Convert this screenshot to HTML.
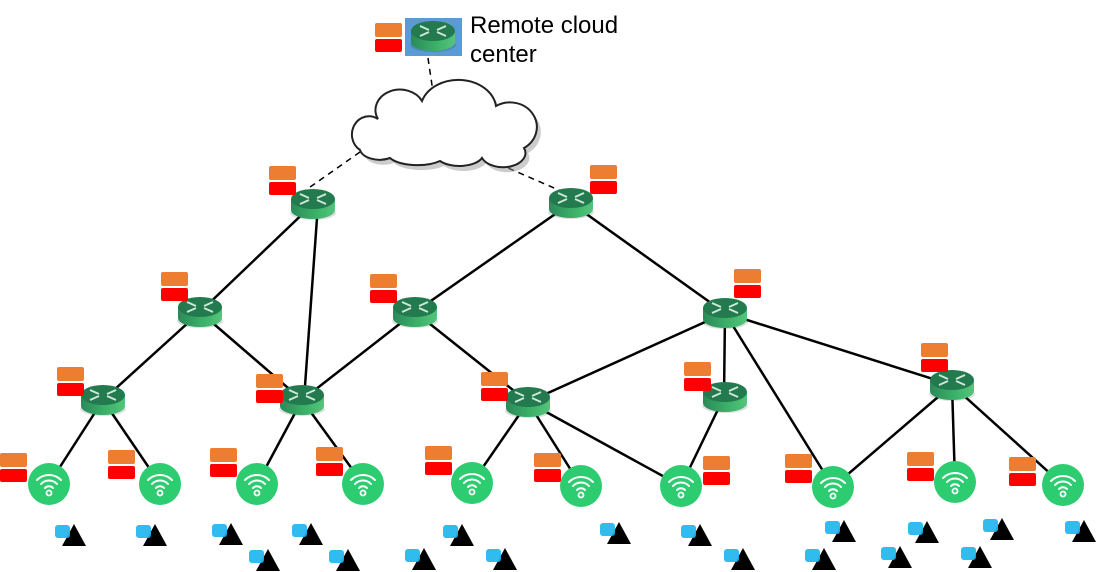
<!DOCTYPE html>
<html><head><meta charset="utf-8"><style>
html,body{margin:0;padding:0;background:#fff;}
svg{display:block;}
</style></head><body>
<svg width="1097" height="572" viewBox="0 0 1097 572" xmlns="http://www.w3.org/2000/svg" font-family="Liberation Sans, sans-serif">
<defs>
<linearGradient id="side" x1="0" x2="1" y1="0" y2="0">
<stop offset="0" stop-color="#2a8a58"/><stop offset="0.6" stop-color="#3db36a"/><stop offset="1" stop-color="#55c47d"/>
</linearGradient>
<g id="rt">
<ellipse cx="0" cy="9" rx="23" ry="7" fill="#000" opacity="0.12"/>
<path d="M-22,-5 L-22,6 A22,9 0 0 0 22,6 L22,-5 Z" fill="url(#side)"/>
<ellipse cx="0" cy="-5" rx="22" ry="10" fill="#237a4e"/>
<g stroke="#cfe9d8" stroke-width="1.8" fill="none">
<path d="M-13,-10 L-4,-6 M-13,0 L-4,-4 M13,-10 L4,-6 M13,0 L4,-4"/>
</g>
</g>
<g id="wf">
<circle cx="0" cy="0" r="21" fill="#2ecc71"/>
<g stroke="#fff" stroke-width="2" fill="none" stroke-linecap="round">
<path d="M-12,-4 A17,17 0 0 1 12,-4"/>
<path d="M-8,0 A11,11 0 0 1 8,0"/>
<path d="M-4,4 A5.5,5.5 0 0 1 4,4"/>
</g>
<circle cx="0" cy="9" r="2.5" fill="none" stroke="#fff" stroke-width="1.8"/>
</g>
<g id="lg">
<rect x="0" y="0" width="27" height="14" rx="2" fill="#ed7d31"/>
<rect x="0" y="16" width="27" height="13" rx="2" fill="#ff0000"/>
</g>
<g id="us">
<path d="M0,0 L12,22 L-12,22 Z" fill="#000"/>
<rect x="-19" y="1" width="15" height="13" rx="3" fill="#1fb5ee" opacity="0.92"/>
</g>
<path id="cl" d="M360,150 A15,16 0 0 1 378,119 A24,20 0 0 1 422,101 A38,30 0 0 1 496,106 A24,22 0 0 1 524,148 A22,14 0 0 1 482,158 A24,12 0 0 1 440,161 A30,12 0 0 1 390,158 A20,12 0 0 1 360,150 Z"/>
</defs>

<g stroke="#000" stroke-width="1.5" stroke-dasharray="6,5" fill="none">
<path d="M428,58 L433,92"/>
<path d="M360,152 L303,192"/>
<path d="M478,155 L568,194"/>
</g>

<use href="#cl" fill="#999" opacity="0.5" transform="translate(4,5)"/>
<use href="#cl" fill="#fff" stroke="#222" stroke-width="2"/>

<g stroke="#000" stroke-width="2.5" fill="none">
<line x1="313" y1="204" x2="200" y2="312"/>
<line x1="318" y1="204" x2="304" y2="400"/>
<line x1="200" y1="312" x2="103" y2="400"/>
<line x1="200" y1="312" x2="302" y2="400"/>
<line x1="571" y1="203" x2="415" y2="312"/>
<line x1="571" y1="203" x2="725" y2="313"/>
<line x1="415" y1="312" x2="302" y2="400"/>
<line x1="415" y1="312" x2="528" y2="402"/>
<line x1="725" y1="313" x2="528" y2="402"/>
<line x1="725" y1="313" x2="724" y2="397"/>
<line x1="725" y1="313" x2="833" y2="487"/>
<line x1="725" y1="313" x2="952" y2="385"/>
<line x1="103" y1="400" x2="49" y2="484"/>
<line x1="103" y1="400" x2="160" y2="484"/>
<line x1="302" y1="400" x2="257" y2="484"/>
<line x1="302" y1="400" x2="363" y2="484"/>
<line x1="528" y1="402" x2="472" y2="483"/>
<line x1="528" y1="402" x2="581" y2="486"/>
<line x1="528" y1="402" x2="681" y2="486"/>
<line x1="724" y1="397" x2="681" y2="486"/>
<line x1="952" y1="385" x2="833" y2="487"/>
<line x1="952" y1="385" x2="955" y2="482"/>
<line x1="952" y1="385" x2="1063" y2="485"/>
</g>

<rect x="405" y="18" width="57" height="38" fill="#5b9bd5"/>
<use href="#rt" x="433" y="36"/>
<text x="470" y="33" font-size="24" fill="#000">Remote cloud</text>
<text x="470" y="62" font-size="24" fill="#000">center</text>

<use href="#rt" x="313" y="204"/>
<use href="#rt" x="571" y="203"/>
<use href="#rt" x="200" y="312"/>
<use href="#rt" x="415" y="312"/>
<use href="#rt" x="725" y="313"/>
<use href="#rt" x="103" y="400"/>
<use href="#rt" x="302" y="400"/>
<use href="#rt" x="528" y="402"/>
<use href="#rt" x="725" y="397"/>
<use href="#rt" x="952" y="385"/>

<use href="#wf" x="49" y="484"/>
<use href="#wf" x="160" y="484"/>
<use href="#wf" x="257" y="484"/>
<use href="#wf" x="363" y="484"/>
<use href="#wf" x="472" y="483"/>
<use href="#wf" x="581" y="486"/>
<use href="#wf" x="681" y="486"/>
<use href="#wf" x="833" y="487"/>
<use href="#wf" x="955" y="482"/>
<use href="#wf" x="1063" y="485"/>

<use href="#lg" x="375" y="23"/>
<use href="#lg" x="269" y="166"/>
<use href="#lg" x="590" y="165"/>
<use href="#lg" x="161" y="272"/>
<use href="#lg" x="370" y="274"/>
<use href="#lg" x="734" y="269"/>
<use href="#lg" x="57" y="367"/>
<use href="#lg" x="256" y="374"/>
<use href="#lg" x="481" y="372"/>
<use href="#lg" x="684" y="362"/>
<use href="#lg" x="921" y="343"/>
<use href="#lg" x="0" y="453"/>
<use href="#lg" x="108" y="450"/>
<use href="#lg" x="210" y="448"/>
<use href="#lg" x="316" y="447"/>
<use href="#lg" x="425" y="446"/>
<use href="#lg" x="534" y="453"/>
<use href="#lg" x="703" y="456"/>
<use href="#lg" x="785" y="454"/>
<use href="#lg" x="907" y="452"/>
<use href="#lg" x="1009" y="457"/>

<use href="#us" x="74" y="524"/>
<use href="#us" x="155" y="524"/>
<use href="#us" x="231" y="523"/>
<use href="#us" x="311" y="523"/>
<use href="#us" x="462" y="524"/>
<use href="#us" x="619" y="522"/>
<use href="#us" x="700" y="524"/>
<use href="#us" x="844" y="520"/>
<use href="#us" x="927" y="521"/>
<use href="#us" x="1002" y="518"/>
<use href="#us" x="1084" y="520"/>
<use href="#us" x="268" y="549"/>
<use href="#us" x="348" y="549"/>
<use href="#us" x="424" y="548"/>
<use href="#us" x="505" y="548"/>
<use href="#us" x="743" y="548"/>
<use href="#us" x="824" y="548"/>
<use href="#us" x="900" y="546"/>
<use href="#us" x="980" y="546"/>
</svg>
</body></html>
